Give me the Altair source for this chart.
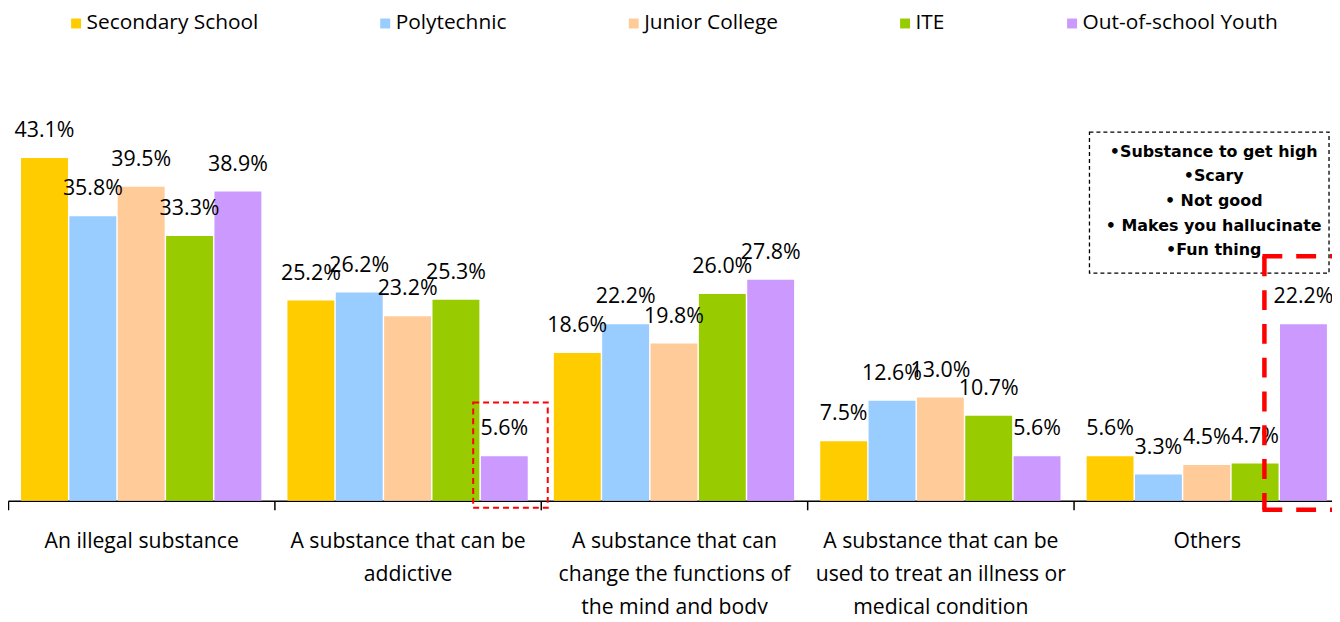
import altair as alt
import pandas as pd

categories = [
    "An illegal substance",
    "A substance that can be\naddictive",
    "A substance that can\nchange the functions of\nthe mind and body",
    "A substance that can be\nused to treat an illness or\nmedical condition",
    "Others",
]
series = ["Secondary School", "Polytechnic", "Junior College", "ITE", "Out-of-school Youth"]
colors = ["#FFCC00", "#99CCFF", "#FFCC99", "#99CC00", "#CC99FF"]

secondary = [43.1, 25.2, 18.6, 7.5, 5.6]
polytechnic = [35.8, 26.2, 22.2, 12.6, 3.3]
junior_college = [39.5, 23.2, 19.8, 13.0, 4.5]
ite = [33.3, 25.3, 26.0, 10.7, 4.7]
out_of_school = [38.9, 5.6, 27.8, 5.6, 22.2]

others_notes = [
    "\u2022Substance to get high",
    "\u2022Scary",
    "\u2022 Not good",
    "\u2022 Makes you hallucinate",
    "\u2022Fun thing",
]

values_by_series = [secondary, polytechnic, junior_college, ite, out_of_school]
rows = []
for s, vals in zip(series, values_by_series):
    for c, v in zip(categories, vals):
        rows.append({"category": c, "series": s, "value": v})
df = pd.DataFrame(rows)

W = 1332
H = 494
FONT = "Open Sans"

x_enc = alt.X(
    "category:N",
    sort=categories,
    scale=alt.Scale(range=[0, 1340], paddingInner=0.098, paddingOuter=0.049),
    axis=alt.Axis(
        title=None,
        labelAngle=0,
        labelExpr="split(datum.label, '\\n')",
        labelFont=FONT,
        labelFontSize=21.3,
        labelColor="black",
        labelLineHeight=33,
        labelPadding=21,
        labelLimit=400,
        domainColor="black",
        domainWidth=1.5,
        tickColor="black",
        tickWidth=1.5,
        tickSize=9,
        tickOffset=-134,
        labelOffset=134,
        grid=False,
    ),
)
xoff_enc = alt.XOffset(
    "series:N", sort=series, scale=alt.Scale(paddingInner=0.03, paddingOuter=0)
)
y_enc = alt.Y(
    "value:Q",
    scale=alt.Scale(domain=[0, 61.75], nice=False, zero=True),
    axis=None,
)

base = alt.Chart(df)

bars = base.mark_bar().encode(
    x=x_enc,
    xOffset=xoff_enc,
    y=y_enc,
    color=alt.Color(
        "series:N",
        sort=series,
        scale=alt.Scale(domain=series, range=colors),
        legend=alt.Legend(
            title=None,
            orient="none",
            legendX=58,
            legendY=3,
            direction="horizontal",
            columns=5,
            symbolType="square",
            symbolSize=100,
            symbolStrokeWidth=0,
            labelFont=FONT,
            labelFontSize=21,
            labelColor="black",
            labelOffset=0,
            labelLimit=400,
            columnPadding=117,
            padding=0,
        ),
    ),
)

labels = base.transform_calculate(
    label="format(datum.value, '.1f') + '%'"
).mark_text(
    font=FONT, fontSize=21.5, color="black", baseline="middle", align="center", dy=-27
).encode(
    x=alt.X("category:N", sort=categories),
    xOffset=alt.XOffset("series:N", sort=series),
    y="value:Q",
    text="label:N",
)

one = pd.DataFrame({"k": [0]})

note_box = alt.Chart(one).mark_rect(
    fillOpacity=0, stroke="black", strokeWidth=1.3, strokeDash=[4, 3]
).encode(
    x=alt.value(1088), x2=alt.value(1329), y=alt.value(123), y2=alt.value(265)
)

note_text = alt.Chart(one).mark_text(
    font="DejaVu Sans", fontSize=16, fontWeight="bold", color="black",
    align="center", baseline="top", lineHeight=24.7,
).encode(
    x=alt.value(1213), y=alt.value(135), text=alt.value(others_notes)
)

red_style = dict(color="#FF0000", strokeWidth=4.5, strokeDash=[20, 14])
red_top = alt.Chart(one).mark_rule(**red_style).encode(
    x=alt.value(1262), x2=alt.value(1332), y=alt.value(248), y2=alt.value(248)
)
red_left = alt.Chart(one).mark_rule(**red_style).encode(
    x=alt.value(1264), x2=alt.value(1264), y=alt.value(248), y2=alt.value(503)
)
red_bottom = alt.Chart(one).mark_rule(**red_style).encode(
    x=alt.value(1262), x2=alt.value(1332), y=alt.value(503), y2=alt.value(503)
)

small_red = alt.Chart(one).mark_rect(
    fillOpacity=0, stroke="#FF0000", strokeWidth=2, strokeDash=[6, 4]
).encode(
    x=alt.value(468), x2=alt.value(543), y=alt.value(395), y2=alt.value(501)
)

chart = alt.layer(
    bars, labels, small_red, note_box, note_text, red_top, red_left, red_bottom
).properties(
    width=W,
    height=H,
    autosize=alt.AutoSizeParams(type="none"),
    padding={"left": 0, "top": 0, "right": 0, "bottom": 112},
    background="white",
).configure_view(stroke=None)

chart.save("out.html", embed_options={"renderer": "svg", "actions": False})
